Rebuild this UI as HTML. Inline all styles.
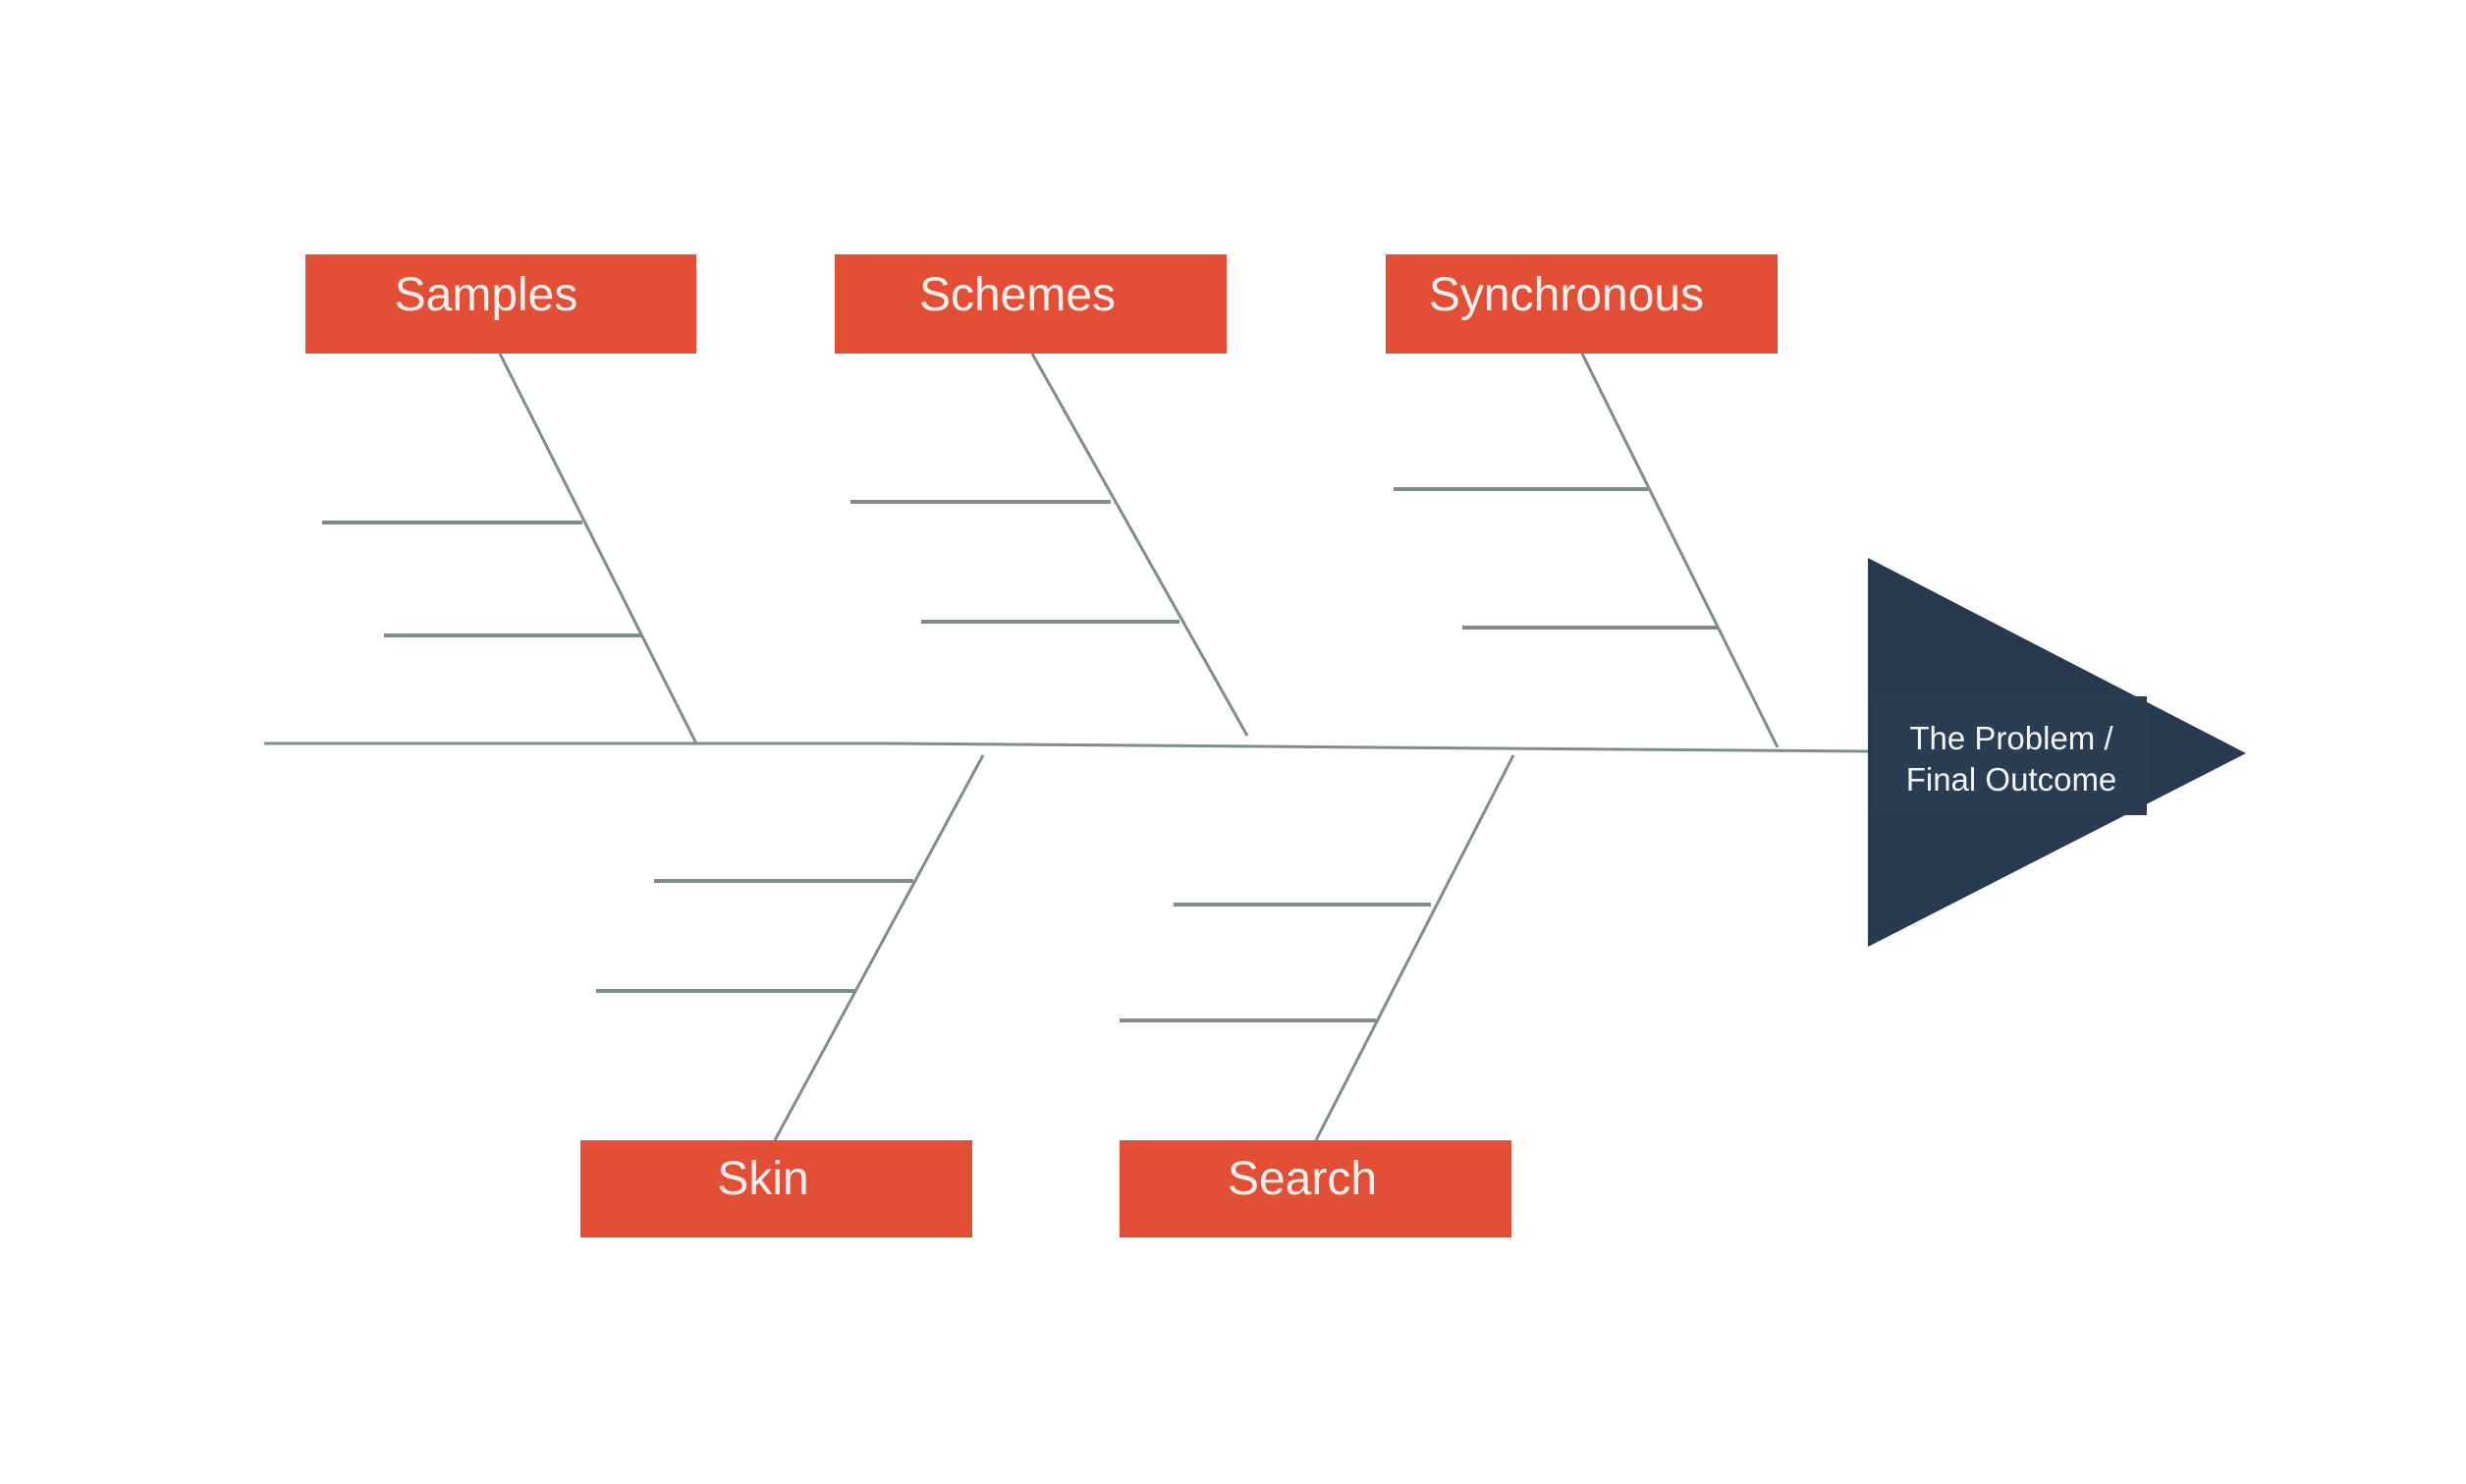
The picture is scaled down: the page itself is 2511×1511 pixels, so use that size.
<!DOCTYPE html>
<html><head><meta charset="utf-8"><style>
html,body{margin:0;padding:0;background:#fff;}
svg{display:block;}
</style></head><body>
<svg width="2511" height="1511" viewBox="0 0 2511 1511" xmlns="http://www.w3.org/2000/svg">
<g stroke="#7f8c8d" stroke-width="3" fill="none" stroke-linecap="butt">
<polyline points="269,757 905,757 1902,765"/>
<line x1="509" y1="360" x2="709" y2="757"/>
<line x1="328" y1="532" x2="593" y2="532" stroke-width="4"/>
<line x1="391" y1="647" x2="653" y2="647" stroke-width="4"/>
<line x1="1051" y1="360" x2="1270" y2="749"/>
<line x1="866" y1="511" x2="1131" y2="511" stroke-width="4"/>
<line x1="938" y1="633" x2="1201" y2="633" stroke-width="4"/>
<line x1="1611" y1="360" x2="1810" y2="761"/>
<line x1="1419" y1="498" x2="1678" y2="498" stroke-width="4"/>
<line x1="1489" y1="639" x2="1749" y2="639" stroke-width="4"/>
<line x1="1001" y1="769" x2="789" y2="1161"/>
<line x1="666" y1="897" x2="930" y2="897" stroke-width="4"/>
<line x1="607" y1="1009" x2="870" y2="1009" stroke-width="4"/>
<line x1="1541" y1="769" x2="1340" y2="1161"/>
<line x1="1195" y1="921" x2="1457" y2="921" stroke-width="4"/>
<line x1="1140" y1="1039" x2="1401" y2="1039" stroke-width="4"/>
</g>
<polygon points="1902,568 1902,964 2287,767" fill="#273a4f"/>
<rect x="1906" y="709" width="280" height="121" fill="#2b3d53"/>
<g fill="#e24f35">
<rect x="311" y="259" width="398" height="101"/>
<rect x="850" y="259" width="399" height="101"/>
<rect x="1411" y="259" width="399" height="101"/>
<rect x="591" y="1161" width="399" height="99"/>
<rect x="1140" y="1161" width="399" height="99"/>
</g>
<g font-family="Liberation Sans, sans-serif" font-size="48" fill="#f0f0f0" text-anchor="middle">
<text x="495" y="316">Samples</text>
<text x="1036" y="316">Schemes</text>
<text x="1595" y="316">Synchronous</text>
<text x="777" y="1216">Skin</text>
<text x="1326" y="1216">Search</text>
</g>
<g font-family="Liberation Sans, sans-serif" font-size="33" fill="#f4f4f4" text-anchor="middle">
<text x="2048" y="763">The Problem /</text>
<text x="2048" y="805">Final Outcome</text>
</g>
</svg>
</body></html>
